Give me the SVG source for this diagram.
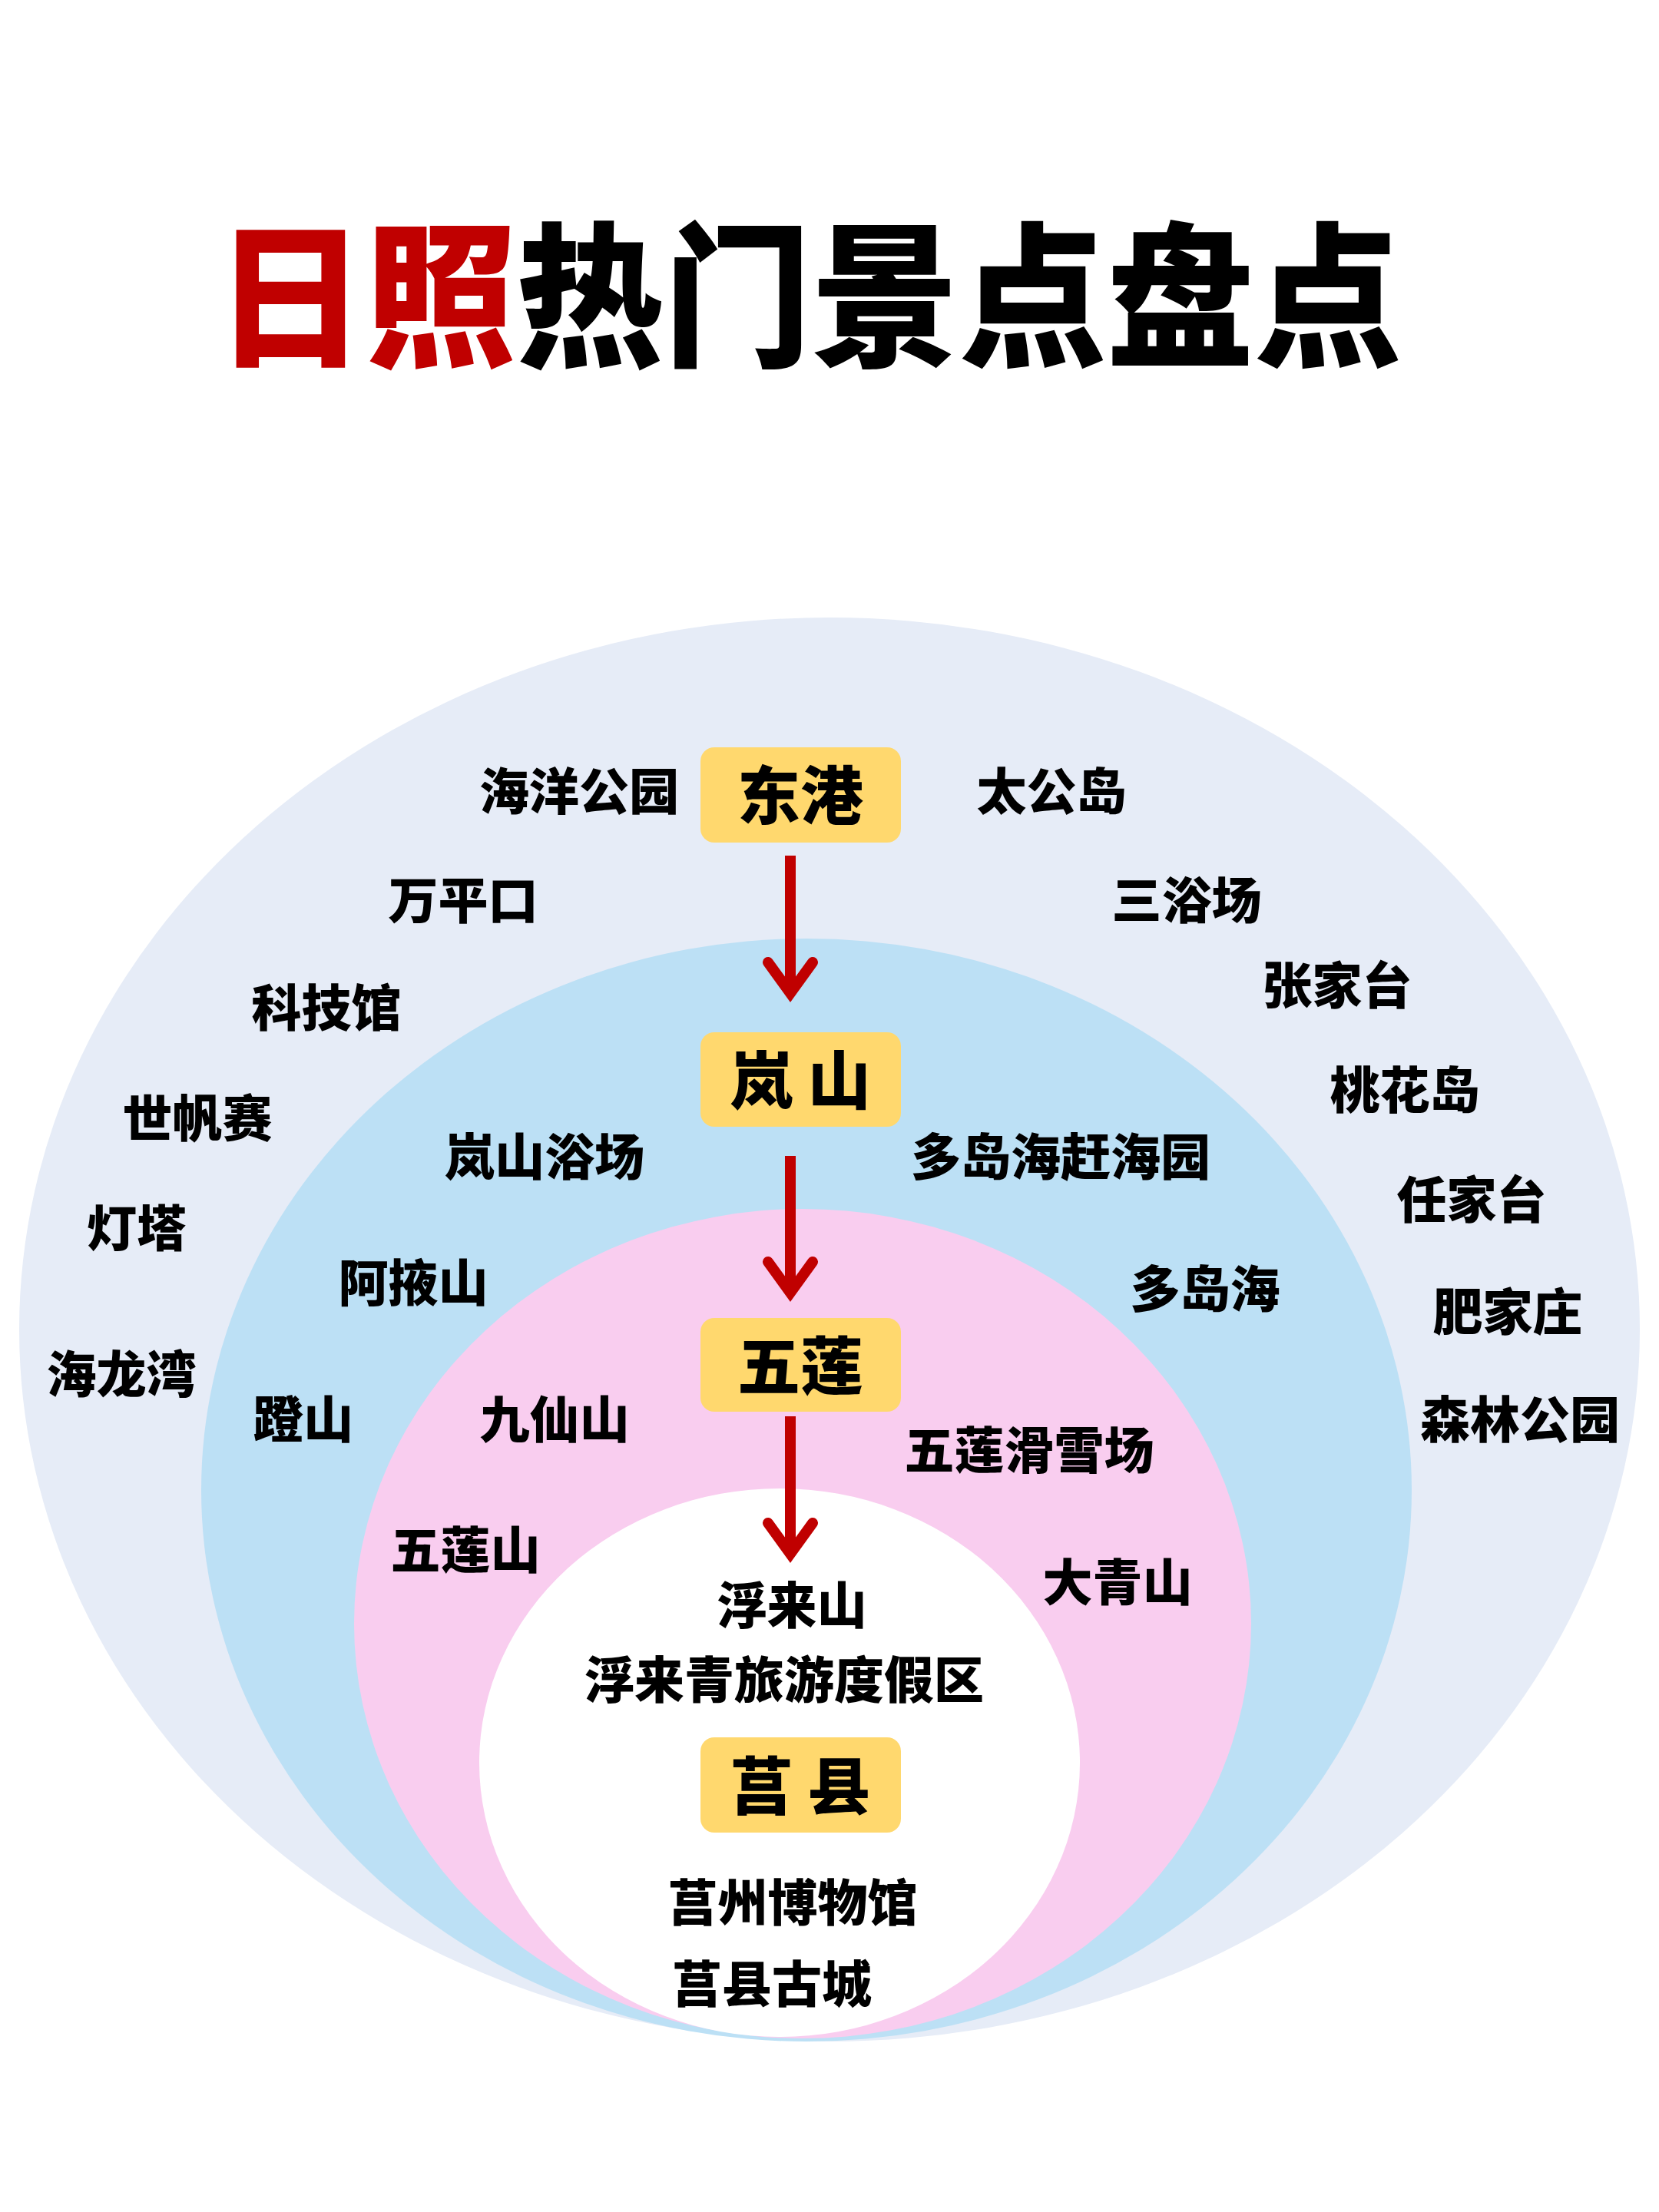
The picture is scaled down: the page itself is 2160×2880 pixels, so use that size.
<svg xmlns="http://www.w3.org/2000/svg" width="2160" height="2880" viewBox="0 0 2160 2880">
<defs>
<style>
.t{font-family:"Noto Sans CJK SC","Noto Sans CJK JP",sans-serif;font-weight:900;fill:#000;text-anchor:middle}
.tt{font-family:"Noto Sans CJK SC","Noto Sans CJK JP",sans-serif;font-weight:900;font-size:203px}
.lbl{font-size:65px}
.box{fill:#FFD86E}
.bt{font-size:82px}
.arr{stroke:#C00000;stroke-width:14;fill:none}
</style>
</defs>
<rect width="2160" height="2880" fill="#FFFFFF"/>
<g id="title">
<text class="tt" x="280" y="462" fill="#C00000" textLength="392" lengthAdjust="spacingAndGlyphs">日照</text>
<text class="tt" x="672" y="462" fill="#000000" textLength="1153" lengthAdjust="spacingAndGlyphs">热门景点盘点</text>
</g>
<g id="rings">
<ellipse id="ring-outer" cx="1080" cy="1731" rx="1055" ry="927" fill="#E6ECF7"/>
<ellipse id="ring-blue" cx="1050" cy="1940" rx="788" ry="718" fill="#BCE0F5"/>
<ellipse id="ring-pink" cx="1045" cy="2114" rx="584" ry="540" fill="#F9CDEF"/>
<ellipse id="ring-white" cx="1015" cy="2295" rx="391" ry="357" fill="#FFFFFF"/>
</g>
<g id="connectors">
<g id="arrow1"><line class="arr" x1="1029" y1="1114" x2="1029" y2="1290"/><polyline class="arr" points="1000,1253 1029,1293 1058,1253" stroke-linecap="round" stroke-linejoin="miter"/></g>
<g id="arrow2"><line class="arr" x1="1029" y1="1505" x2="1029" y2="1680"/><polyline class="arr" points="1000,1643 1029,1683 1058,1643" stroke-linecap="round" stroke-linejoin="miter"/></g>
<g id="arrow3"><line class="arr" x1="1029" y1="1844" x2="1029" y2="2020"/><polyline class="arr" points="1000,1983 1029,2023 1058,1983" stroke-linecap="round" stroke-linejoin="miter"/></g>
</g>
<g id="node-donggang"><rect class="box" x="912" y="973" width="261" height="124" rx="18"/><text class="t bt" x="1042" y="1066">东港</text></g>
<g id="node-lanshan"><rect class="box" x="912" y="1344" width="261" height="123" rx="18"/><text class="t bt" x="1042" y="1437">岚 山</text></g>
<g id="node-wulian"><rect class="box" x="912" y="1716" width="261" height="122" rx="18"/><text class="t bt" x="1042" y="1809">五莲</text></g>
<g id="node-juxian"><rect class="box" x="912" y="2262" width="261" height="124" rx="18"/><text class="t bt" x="1042" y="2356">莒 县</text></g>
<g id="labels">
<text class="t lbl" x="754" y="1054">海洋公园</text>
<text class="t lbl" x="1369" y="1054">太公岛</text>
<text class="t lbl" x="603" y="1196">万平口</text>
<text class="t lbl" x="1545" y="1196">三浴场</text>
<text class="t lbl" x="425" y="1336">科技馆</text>
<text class="t lbl" x="1741" y="1307">张家台</text>
<text class="t lbl" x="257" y="1480">世帆赛</text>
<text class="t lbl" x="1829" y="1443">桃花岛</text>
<text class="t lbl" x="178" y="1623">灯塔</text>
<text class="t lbl" x="1916" y="1586">任家台</text>
<text class="t lbl" x="158" y="1813">海龙湾</text>
<text class="t lbl" x="1963" y="1732">肥家庄</text>
<text class="t lbl" x="1979" y="1872">森林公园</text>
<text class="t lbl" x="709" y="1530">岚山浴场</text>
<text class="t lbl" x="1381" y="1530">多岛海赶海园</text>
<text class="t lbl" x="538" y="1694">阿掖山</text>
<text class="t lbl" x="1569" y="1702">多岛海</text>
<text class="t lbl" x="395" y="1872">蹬山</text>
<text class="t lbl" x="722" y="1872">九仙山</text>
<text class="t lbl" x="1340" y="1912">五莲滑雪场</text>
<text class="t lbl" x="606" y="2042">五莲山</text>
<text class="t lbl" x="1455" y="2084">大青山</text>
<text class="t lbl" x="1031" y="2114">浮来山</text>
<text class="t lbl" x="1021" y="2211">浮来青旅游度假区</text>
<text class="t lbl" x="1032" y="2501">莒州博物馆</text>
<text class="t lbl" x="1005" y="2607">莒县古城</text>
</g>
</svg>
